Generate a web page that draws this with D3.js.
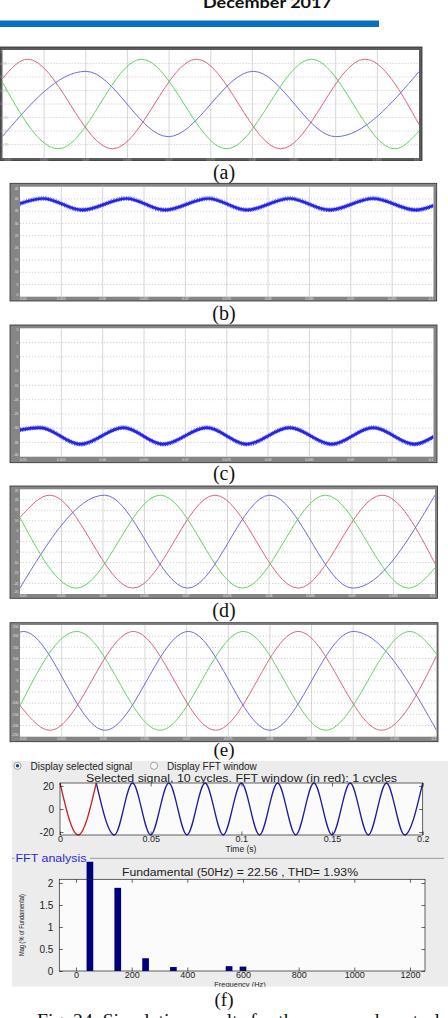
<!DOCTYPE html>
<html><head><meta charset="utf-8">
<script src="https://cdn.jsdelivr.net/npm/d3@7"></script>
<style>body{margin:0;background:#fff}svg{display:block}</style>
</head><body>
<svg id="c" width="448" height="1018"></svg>
<script>
// ---------------- DATA ----------------
const headerText = "December 2017";
const panelLabels = ["(a)", "(b)", "(c)", "(d)", "(e)", "(f)"];
const captionText = "Fig. 24. Simulation results for the proposed control";

// shared time axis of the scope panels (s)
const panelTimeTicks = [0.05, 0.055, 0.06, 0.065, 0.07, 0.075, 0.08, 0.085, 0.09, 0.095, 0.1];
const panelTimeLabels = ["0.05", "0.055", "0.06", "0.065", "0.07", "0.075", "0.08", "0.085", "0.09", "0.095", "0.1"];

// (a) three-phase signals: [time, value] read at edges, peaks and troughs
const aYTicks = [-1, -0.75, -0.5, -0.25, 0, 0.25, 0.5, 0.75, 1];
const aRed   = [[0.05, 0.47], [0.0530, 0.83], [0.0632, -0.83], [0.0733, 0.83], [0.0834, -0.83], [0.0935, 0.83], [0.1, -0.38]];
const aBlue  = [[0.05, -0.60], [0.0600, 0.605], [0.0699, -0.605], [0.0801, 0.605], [0.0900, -0.605], [0.1, 0.60]];
const aGreen = [[0.05, 0.40], [0.0567, -0.83], [0.0667, 0.83], [0.0769, -0.83], [0.0871, 0.83], [0.0971, -0.83], [0.1, -0.50]];

// (b) upper noisy trace
const bYTicks = [0, 5, 10, 15, 20, 25, 30, 35, 40, 45];
const bSignal = [[0.05, 38.1], [0.0528, 40.2], [0.0575, 35.5], [0.0629, 40.2], [0.0675, 35.5], [0.0728, 40.2], [0.0774, 35.5], [0.0826, 40.2], [0.0874, 35.5], [0.0927, 40.2], [0.0979, 35.5], [0.1, 37.3]];

// (c) lower noisy trace
const cYTicks = [-40, -35, -30, -25, -20, -15, -10, -5, 0, 5];
const cSignal = [[0.05, -30.6], [0.0524, -29.8], [0.0573, -35.6], [0.0625, -29.8], [0.0673, -35.6], [0.0726, -29.8], [0.0774, -35.6], [0.0826, -29.8], [0.0877, -35.6], [0.0927, -29.8], [0.0977, -35.6], [0.1, -33.0]];

// (d) three-phase currents
const dYTicks = [-25, -20, -15, -10, -5, 0, 5, 10, 15, 20, 25];
const dRed   = [[0.05, 11.5], [0.0536, 22.2], [0.0636, -22.2], [0.0735, 22.2], [0.0835, -22.2], [0.0936, 22.2], [0.1, -10.5]];
const dBlue  = [[0.05, -22.1], [0.0602, 22.2], [0.0702, -22.2], [0.0801, 22.2], [0.0901, -22.2], [0.1, 22.2]];
const dGreen = [[0.05, 11.5], [0.0568, -22.2], [0.0669, 22.2], [0.0768, -22.2], [0.0868, 22.2], [0.0968, -22.2], [0.1, -12.5]];

// (e) three-phase voltages
const eYTicks = [-250, -200, -150, -100, -50, 0, 50, 100, 150, 200, 250];
const eBlue  = [[0.05, 218], [0.0504, 221], [0.0602, -221], [0.0702, 221], [0.0800, -221], [0.0900, 221], [0.1, -221]];
const eGreen = [[0.05, -112], [0.0568, 221], [0.0668, -221], [0.0768, 221], [0.0867, -221], [0.0968, 221], [0.1, 120]];
const eRed   = [[0.05, -110], [0.0536, -221], [0.0636, 221], [0.0735, -221], [0.0834, 221], [0.0934, -221], [0.1, 112]];

// (f) FFT tool: selected signal (peaks / troughs) and harmonic spectrum
const fftTime   = [0, 0.01, 0.02, 0.03, 0.04, 0.05, 0.06, 0.07, 0.08, 0.09, 0.1, 0.11, 0.12, 0.13, 0.14, 0.15, 0.16, 0.17, 0.18, 0.19, 0.2];
const fftSignal = [22.56, -22.56, 22.56, -22.56, 22.56, -22.56, 22.56, -22.56, 22.56, -22.56, 22.56, -22.56, 22.56, -22.56, 22.56, -22.56, 22.56, -22.56, 22.56, -22.56, 22.56];
const fftWindowEnd = 0.02;
const signalTimeTicks = [0, 0.05, 0.1, 0.15, 0.2];
const signalTimeLabels = ["0", "0.05", "0.1", "0.15", "0.2"];
const signalYTicks = [-20, 0, 20];
const harmonicFreq = [50, 150, 250, 350, 550, 600];
const harmonicMag  = [100, 1.89, 0.29, 0.09, 0.11, 0.10];
const freqTicks = [0, 200, 400, 600, 800, 1000, 1200];
const magTicks = [0, 0.5, 1, 1.5, 2];
const radioLabels = ["Display selected signal", "Display FFT window"];
const signalTitle = "Selected signal, 10 cycles. FFT window (in red): 1 cycles";
const spectrumTitle = "Fundamental (50Hz) = 22.56 , THD= 1.93%";
const groupTitle = "FFT analysis";

// ---------------- DRAW ----------------
const svg = d3.select("#c");
const defs = svg.append("defs");

// header
svg.append("text").attr("x", 203).attr("y", 7.5).attr("font-family", "Lato, 'Open Sans', sans-serif")
  .attr("font-weight", "bold").attr("font-size", 16).attr("textLength", 129).attr("lengthAdjust", "spacingAndGlyphs")
  .attr("fill", "#111").text(headerText);
svg.append("rect").attr("x", 0).attr("y", 20.5).attr("width", 379).attr("height", 6.5).attr("fill", "#0b6fbf");

let clipId = 0;
function scope(cfg) {
  const g = svg.append("g");
  const [fx, fy, fw, fh] = cfg.frame;
  g.append("rect").attr("x", fx).attr("y", fy).attr("width", fw).attr("height", fh)
    .attr("fill", cfg.frameFill).attr("stroke", "#2e2e2e").attr("stroke-width", 0.8);
  const [x0, x1, y0, y1] = cfg.plot;
  g.append("rect").attr("x", x0).attr("y", y0).attr("width", x1 - x0).attr("height", y1 - y0).attr("fill", "#fff");
  const x = d3.scaleLinear().domain(d3.extent(panelTimeTicks)).range([x0, x1]);
  const y = d3.scaleLinear().domain(d3.extent(cfg.yTicks)).range([y1, y0]);
  g.selectAll(null).data(panelTimeTicks.slice(1, -1)).join("line")
    .attr("x1", d => x(d)).attr("x2", d => x(d)).attr("y1", y0).attr("y2", y1)
    .attr("stroke", "#d2d2d2").attr("stroke-width", 0.9);
  g.selectAll(null).data(cfg.yTicks.slice(1, -1)).join("line")
    .attr("x1", x0).attr("x2", x1).attr("y1", d => y(d)).attr("y2", d => y(d))
    .attr("stroke", "#bdbdbd").attr("stroke-width", 0.7).attr("stroke-dasharray", "1.2 1.8");
  // tiny tick labels
  const nT = panelTimeTicks.length;
  g.selectAll(null).data(panelTimeTicks).join("text")
    .attr("x", (d, i) => x(d) + (i === 0 ? cfg.firstXShift : 0)).attr("y", cfg.xLabY)
    .attr("text-anchor", (d, i) => i === 0 ? "start" : (i === nT - 1 ? "end" : "middle"))
    .attr("font-family", "Liberation Sans, sans-serif").attr("font-size", 3.4).attr("fill", cfg.labFill)
    .text((d, i) => panelTimeLabels[i]);
  g.selectAll(null).data(cfg.yTicks).join("text")
    .attr("x", cfg.yLabX).attr("y", d => Math.max(y0 + 3, Math.min(y1 - 1.2, y(d) + 1.2))).attr("text-anchor", cfg.yLabAnchor)
    .attr("font-family", "Liberation Sans, sans-serif").attr("font-size", 3.4).attr("fill", cfg.labFill)
    .text(d => d);
  const id = "clip" + (clipId++);
  defs.append("clipPath").attr("id", id).append("rect").attr("x", x0).attr("y", y0).attr("width", x1 - x0).attr("height", y1 - y0);
  const line = d3.line().x(d => x(d[0])).y(d => y(d[1])).curve(d3.curveMonotoneX);
  const sg = g.append("g").attr("clip-path", `url(#${id})`);
  cfg.series.forEach(s => {
    if (s.fuzz) {
      const p = line(s.data);
      sg.append("path").attr("d", p).attr("fill", "none").attr("stroke", "#2323e2").attr("stroke-width", 2.6);
      [[-1.5, "0.6 1.1", 1.2, 1], [1.5, "0.9 0.8", 1.2, 1], [-2.2, "0.5 1.7", 0.9, 0.6], [2.2, "0.5 1.9", 0.9, 0.6]].forEach(([dy, da, w, op]) => {
        sg.append("path").attr("d", p).attr("transform", `translate(0,${dy})`).attr("fill", "none")
          .attr("stroke", "#2a2af0").attr("stroke-width", w).attr("stroke-dasharray", da).attr("opacity", op);
      });
    } else {
      sg.append("path").attr("d", line(s.data)).attr("fill", "none").attr("stroke", s.color)
        .attr("stroke-width", s.width).attr("stroke-linejoin", "round");
    }
  });
}

scope({frame: [0, 47, 422, 113.5], frameFill: "#5c5c5c", plot: [2.5, 419, 50, 158],
  yTicks: aYTicks, xLabY: 160.6, yLabX: 0.3, yLabAnchor: "start", labFill: "#aaa", firstXShift: 2,
  series: [{data: aRed, color: "#e0506a", width: 0.9}, {data: aBlue, color: "#5a5ae6", width: 0.9}, {data: aGreen, color: "#4cd24c", width: 0.9}]});

scope({frame: [10, 183.3, 426.7, 117.7], frameFill: "#858585", plot: [20, 433.5, 186.7, 296.7],
  yTicks: bYTicks, xLabY: 299.8, yLabX: 18.5, yLabAnchor: "end", labFill: "#e6e6e6", firstXShift: 0,
  series: [{data: bSignal, fuzz: true}]});

scope({frame: [10, 325, 427, 137.7], frameFill: "#858585", plot: [20, 433.5, 328.3, 456.7],
  yTicks: cYTicks, xLabY: 460.5, yLabX: 18.5, yLabAnchor: "end", labFill: "#e6e6e6", firstXShift: 0,
  series: [{data: cSignal, fuzz: true}]});

scope({frame: [10, 486, 427.5, 112.3], frameFill: "#858585", plot: [20, 435, 489.3, 594],
  yTicks: dYTicks, xLabY: 597.3, yLabX: 18.5, yLabAnchor: "end", labFill: "#e6e6e6", firstXShift: 0,
  series: [{data: dRed, color: "#e0506a", width: 0.9}, {data: dBlue, color: "#5a5ae6", width: 0.9}, {data: dGreen, color: "#4cd24c", width: 0.9}]});

scope({frame: [10, 622.7, 428, 119], frameFill: "#858585", plot: [20, 436.5, 625, 736.7],
  yTicks: eYTicks, xLabY: 740.2, yLabX: 18.5, yLabAnchor: "end", labFill: "#e6e6e6", firstXShift: 0,
  series: [{data: eBlue, color: "#5a5ae6", width: 0.9}, {data: eGreen, color: "#4cd24c", width: 0.9}, {data: eRed, color: "#e0506a", width: 0.9}]});

// panel captions
const capY = [179, 319.7, 479.5, 616.5, 756.3, 1005.8];
const capSize = [20, 20, 20, 20, 19, 19];
svg.selectAll(".cap").data(panelLabels).join("text").attr("class", "cap")
  .attr("x", 224).attr("y", (d, i) => capY[i]).attr("text-anchor", "middle")
  .attr("font-family", "Liberation Serif, serif").attr("font-size", (d, i) => capSize[i]).attr("fill", "#111").text(d => d);

// ---------------- (f) FFT tool ----------------
defs.append("clipPath").attr("id", "fclip").append("rect").attr("x", 12).attr("y", 761).attr("width", 436).attr("height", 225.7);
const fg = svg.append("g").attr("clip-path", "url(#fclip)");
fg.append("rect").attr("x", 12).attr("y", 761).attr("width", 436).attr("height", 225.7).attr("fill", "#ececec");
const sans = "Liberation Sans, Arial, sans-serif";
const plain = d => String(d);

// radio buttons
const radioX = [17.5, 154];
radioLabels.forEach((t, i) => {
  fg.append("circle").attr("cx", radioX[i]).attr("cy", 765.8).attr("r", 3.6).attr("fill", "#fafafa").attr("stroke", "#8a8a8a").attr("stroke-width", 0.8);
  if (i === 0) fg.append("circle").attr("cx", radioX[i]).attr("cy", 765.8).attr("r", 1.7).attr("fill", "#24408e");
  fg.append("text").attr("x", radioX[i] + 13).attr("y", 770.1).attr("font-family", sans).attr("font-size", 10)
    .attr("fill", "#222").text(t);
});
fg.append("text").attr("x", 86).attr("y", 782.3).attr("font-family", sans).attr("font-size", 10)
  .attr("textLength", 311).attr("lengthAdjust", "spacingAndGlyphs").attr("fill", "#222").text(signalTitle);

// top axes: selected signal
const tx = d3.scaleLinear().domain([0, 0.2]).range([60, 422.7]);
const ty = d3.scaleLinear().domain([-22.56, 22.56]).range([835, 783]);
fg.append("rect").attr("x", 60).attr("y", 783).attr("width", 362.7).attr("height", 52).attr("fill", "#fbfbfb");
const sigPts = fftTime.map((t, i) => [t, fftSignal[i]]);
const sigLine = d3.line().x(d => tx(d[0])).y(d => ty(d[1])).curve(d3.curveMonotoneX);
fg.append("path").attr("d", sigLine(sigPts.filter(d => d[0] >= fftWindowEnd))).attr("fill", "none").attr("stroke", "#1c1ca8").attr("stroke-width", 1.3);
fg.append("path").attr("d", sigLine(sigPts.filter(d => d[0] <= fftWindowEnd))).attr("fill", "none").attr("stroke", "#d42020").attr("stroke-width", 1.3);
fg.append("rect").attr("x", 60).attr("y", 783).attr("width", 362.7).attr("height", 52).attr("fill", "none").attr("stroke", "#222").attr("stroke-width", 0.7);

function styleAxis(sel, fs) {
  sel.select(".domain").remove();
  sel.selectAll("line").attr("stroke", "#222").attr("stroke-width", 0.7);
  sel.selectAll("text").attr("font-family", sans).attr("font-size", fs).attr("fill", "#222");
}
fg.append("g").attr("transform", "translate(0,835)")
  .call(d3.axisBottom(tx).tickValues(signalTimeTicks).tickFormat((d, i) => signalTimeLabels[i]).tickSizeInner(-3.5).tickSizeOuter(0).tickPadding(0.3))
  .call(s => styleAxis(s, 9));
fg.append("g").attr("transform", "translate(0,783)")
  .call(d3.axisTop(tx).tickValues(signalTimeTicks).tickFormat("").tickSizeInner(-3.5).tickSizeOuter(0)).call(s => styleAxis(s, 9));
fg.append("g").attr("transform", "translate(60,0)")
  .call(d3.axisLeft(ty).tickValues(signalYTicks).tickFormat(plain).tickSizeInner(-3.5).tickSizeOuter(0).tickPadding(6)).call(s => styleAxis(s, 10));
fg.append("g").attr("transform", "translate(422.7,0)")
  .call(d3.axisRight(ty).tickValues(signalYTicks).tickFormat("").tickSizeInner(-3.5).tickSizeOuter(0)).call(s => styleAxis(s, 9));
fg.append("text").attr("x", 241).attr("y", 852.3).attr("text-anchor", "middle").attr("font-family", sans).attr("font-size", 8.5).attr("fill", "#222").text("Time (s)");

// group box "FFT analysis"
fg.append("line").attr("x1", 12).attr("x2", 14.5).attr("y1", 858.3).attr("y2", 858.3).attr("stroke", "#9a9a9a");
fg.append("line").attr("x1", 90).attr("x2", 444).attr("y1", 858.3).attr("y2", 858.3).attr("stroke", "#9a9a9a");
fg.append("text").attr("x", 15.5).attr("y", 861.5).attr("font-family", sans).attr("font-size", 10)
  .attr("textLength", 71).attr("lengthAdjust", "spacingAndGlyphs").attr("fill", "#2a2ad0").text(groupTitle);

// bottom axes: spectrum
const fx = d3.scaleLinear().domain([-60, 1254]).range([59.3, 425]);
const fy = d3.scaleLinear().domain([0, 2.084]).range([971, 879.3]);
fg.append("rect").attr("x", 59.3).attr("y", 879.3).attr("width", 365.7).attr("height", 91.7).attr("fill", "#fbfbfb");
fg.append("text").attr("x", 240).attr("y", 876).attr("text-anchor", "middle").attr("font-family", sans).attr("font-size", 10)
  .attr("textLength", 236).attr("lengthAdjust", "spacingAndGlyphs").attr("fill", "#222").text(spectrumTitle);
defs.append("clipPath").attr("id", "barclip").append("rect").attr("x", 59.3).attr("y", 861.7).attr("width", 365.7).attr("height", 109.3);
const barHalf = 12; // Hz
fg.append("g").attr("clip-path", "url(#barclip)").selectAll("rect").data(harmonicFreq).join("rect")
  .attr("x", d => fx(d - barHalf)).attr("width", d => fx(d + barHalf) - fx(d - barHalf))
  .attr("y", (d, i) => fy(harmonicMag[i])).attr("height", (d, i) => fy(0) - fy(harmonicMag[i]))
  .attr("fill", "#00007f");
fg.append("rect").attr("x", 59.3).attr("y", 879.3).attr("width", 365.7).attr("height", 91.7).attr("fill", "none").attr("stroke", "#222").attr("stroke-width", 0.7);
fg.append("g").attr("transform", "translate(0,971)")
  .call(d3.axisBottom(fx).tickValues(freqTicks).tickFormat(plain).tickSizeInner(-3.5).tickSizeOuter(0).tickPadding(0.8)).call(s => styleAxis(s, 9));
fg.append("g").attr("transform", "translate(0,879.3)")
  .call(d3.axisTop(fx).tickValues(freqTicks).tickFormat("").tickSizeInner(-3.5).tickSizeOuter(0)).call(s => styleAxis(s, 9));
fg.append("g").attr("transform", "translate(59.3,0)")
  .call(d3.axisLeft(fy).tickValues(magTicks).tickFormat(plain).tickSizeInner(-3.5).tickSizeOuter(0).tickPadding(6)).call(s => styleAxis(s, 10));
fg.append("g").attr("transform", "translate(425,0)")
  .call(d3.axisRight(fy).tickValues(magTicks).tickFormat("").tickSizeInner(-3.5).tickSizeOuter(0)).call(s => styleAxis(s, 9));
fg.append("text").attr("transform", "translate(24.3,925) rotate(-90)").attr("text-anchor", "middle")
  .attr("font-family", sans).attr("font-size", 8).attr("textLength", 62).attr("lengthAdjust", "spacingAndGlyphs")
  .attr("fill", "#222").text("Mag (% of Fundamental)");
fg.append("text").attr("x", 240).attr("y", 987.4).attr("text-anchor", "middle").attr("font-family", sans).attr("font-size", 7.5).attr("fill", "#222").text("Frequency (Hz)");

// bottom caption (cut by the page edge)
svg.append("text").attr("x", 37).attr("y", 1027.2).attr("font-family", "Liberation Serif, serif").attr("font-size", 19)
  .attr("textLength", 403).attr("lengthAdjust", "spacingAndGlyphs").attr("fill", "#111").text(captionText);
</script>
</body></html>
